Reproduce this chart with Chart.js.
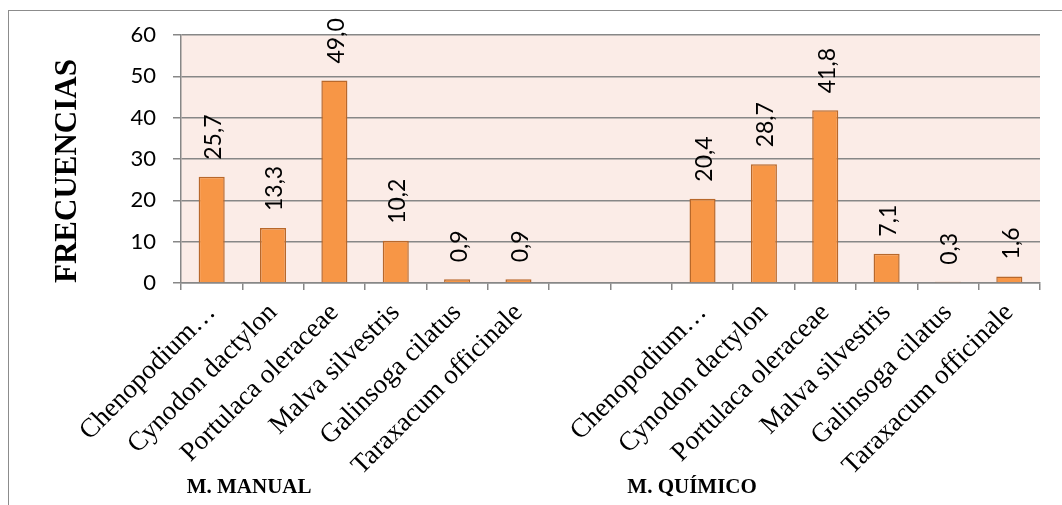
<!DOCTYPE html>
<html>
<head>
<meta charset="utf-8">
<script src="https://cdn.jsdelivr.net/npm/chart.js@4.4.1/dist/chart.umd.min.js"></script>
<style>
  body { margin: 0; background: #fff; }
  #wrap { position: relative; width: 1062px; height: 505px; overflow: hidden; }
  #frame { position: absolute; left: 8px; top: 10px; width: 1100px; height: 600px;
           border-left: 1.5px solid #8c8c8c; border-top: 1.5px solid #8c8c8c; }
  canvas { position: absolute; left: 0; top: 0; }
</style>
</head>
<body>
<div id="wrap">
  <div id="frame"></div>
  <canvas id="grafico" width="1062" height="505"></canvas>
</div>
<script>
// categories: two groups of six species, two empty slots between them
const especies = [
  'Chenopodium…', 'Cynodon dactylon', 'Portulaca oleraceae',
  'Malva silvestris', 'Galinsoga cilatus', 'Taraxacum officinale',
  '', '',
  'Chenopodium…', 'Cynodon dactylon', 'Portulaca oleraceae',
  'Malva silvestris', 'Galinsoga cilatus', 'Taraxacum officinale'
];
const frecuencias = [25.7, 13.3, 49.0, 10.2, 0.9, 0.9, null, null, 20.4, 28.7, 41.8, 7.1, 0.3, 1.6];
const grupos = ['M. MANUAL', 'M. QUÍMICO'];
const yTicks = [0, 10, 20, 30, 40, 50, 60];

const gris = '#878787';

// labels on top of each bar, turned 90 degrees, comma as decimal mark
const etiquetas = {
  id: 'etiquetas',
  afterDatasetsDraw(chart) {
    const c = chart.ctx;
    const meta = chart.getDatasetMeta(0);
    c.save();
    c.font = '23px Lato';
    c.fillStyle = '#000';
    c.textAlign = 'left';
    c.textBaseline = 'middle';
    meta.data.forEach((bar, i) => {
      const v = frecuencias[i];
      if (v === null) return;
      let y = bar.y - 17;
      const txt = v.toFixed(1).replace('.', ',');
      const w = c.measureText(txt).width;
      if (y - w < 16) y = 16 + w;
      c.save();
      c.translate(bar.x + 2, y);
      c.rotate(-Math.PI / 2);
      c.fillText(txt, 0, 0);
      c.restore();
    });
    c.restore();
  }
};

// group names under the rotated species names
const nombresGrupo = {
  id: 'nombresGrupo',
  afterDraw(chart) {
    const c = chart.ctx;
    const x = chart.scales.x;
    const donde = [0.61, 7.83];
    c.save();
    c.font = 'bold 21px "Liberation Serif"';
    c.fillStyle = '#000';
    c.textAlign = 'center';
    c.textBaseline = 'middle';
    grupos.forEach((g, i) => {
      c.fillText(g, x.getPixelForValue(donde[i]), 488);
    });
    c.restore();
  }
};

// pink plot background
const fondo = {
  id: 'fondo',
  beforeDraw(chart) {
    const {ctx: c, chartArea: a} = chart;
    c.save();
    c.fillStyle = '#fbece7';
    c.fillRect(a.left, a.top, a.right - a.left, a.bottom - a.top);
    c.restore();
  }
};

const ctx = document.getElementById('grafico').getContext('2d');

new Chart(ctx, {
  type: 'bar',
  data: {
    labels: especies,
    datasets: [{
      data: frecuencias,
      backgroundColor: '#f79646',
      borderColor: '#b8682b',
      borderWidth: 1.5,
      barPercentage: 0.425,
      categoryPercentage: 1
    }]
  },
  options: {
    responsive: false,
    animation: false,
    layout: { padding: { top: 35, right: 22, left: 0, bottom: 0 } },
    plugins: {
      legend: { display: false },
      tooltip: { enabled: false }
    },
    scales: {
      x: {
        afterFit: s => { s.height = 222; },
        grid: { offset: true, drawOnChartArea: false, color: gris, lineWidth: 1.5, tickLength: 7 },
        border: { color: gris, width: 1.5 },
        ticks: {
          autoSkip: false,
          minRotation: 45,
          maxRotation: 45,
          padding: 7,
          color: '#000',
          font: { family: '"Liberation Serif"', size: 27 }
        }
      },
      y: {
        min: 0,
        max: 60,
        afterFit: s => { s.width = 181; },
        afterBuildTicks: s => { s.ticks = yTicks.map(v => ({ value: v })); },
        grid: { color: gris, lineWidth: 1.5, tickLength: 8 },
        border: { color: gris, width: 1.5 },
        ticks: {
          padding: 17,
          color: '#000',
          font: { family: 'Lato', size: 22 }
        },
        title: {
          display: true,
          text: 'FRECUENCIAS',
          align: 'start',
          color: '#000',
          font: { family: '"Liberation Serif"', size: 31, weight: 'bold' },
          padding: { top: 49 }
        }
      }
    }
  },
  plugins: [fondo, etiquetas, nombresGrupo]
});
</script>
</body>
</html>
